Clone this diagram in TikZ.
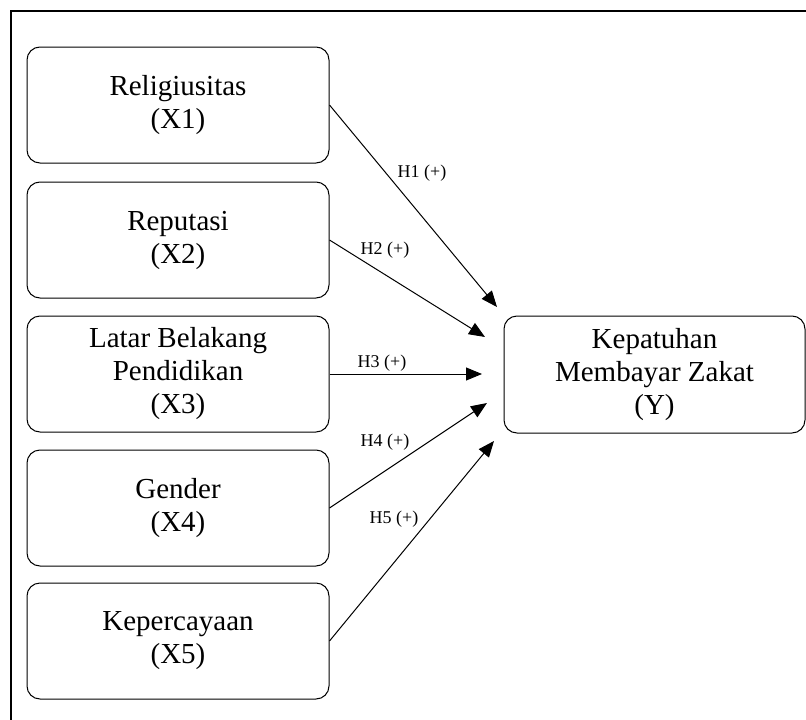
\documentclass[tikz,border=0pt]{standalone}
\usepackage{fontspec}
\setmainfont{Liberation Serif}
\usetikzlibrary{arrows.meta}

\tikzset{
  varbox/.style={draw, rounded corners=13pt, line width=1pt, inner sep=0pt,
    minimum width=302pt, minimum height=116pt, align=center,
    font=\fontsize{29}{33}\selectfont},
  hyparrow/.style={line width=1pt, -{Triangle[length=16pt,width=13pt]}},
  hyplabel/.style={font=\fontsize{18}{20}\selectfont, inner sep=0pt}
}

\begin{document}
\begin{tikzpicture}[x=1pt,y=-1pt]
\useasboundingbox (0,0) rectangle (806,720);

\draw [line width=2.2pt] (11,720) -- (11,11) -- (806,11);

\node [varbox] (x1) at (178,105) {Religiusitas\\(X1)};
\node [varbox] (x2) at (178,240) {Reputasi\\(X2)};
\node [varbox] (x3) at (178,374) {Latar Belakang\\Pendidikan\\(X3)};
\node [varbox] (x4) at (178,508) {Gender\\(X4)};
\node [varbox] (x5) at (178,641) {Kepercayaan\\(X5)};

\node [varbox,minimum width=301pt,minimum height=117pt] (y) at (654.5,374.5)
  {Kepatuhan\\Membayar Zakat\\(Y)};

\coordinate (e1) at (497,307);
\coordinate (e2) at (485,337);
\coordinate (e3) at (482,374);
\coordinate (e4) at (487,403);
\coordinate (e5) at (494,441);

\foreach \i in {1,...,5}
  \draw [hyparrow] (x\i.east) -- (e\i);

\node [hyplabel] (h1) at (422,173) {H1 (+)};
\node [hyplabel] (h2) at (385,250) {H2 (+)};
\node [hyplabel] (h3) at (382,363) {H3 (+)};
\node [hyplabel] (h4) at (385,442) {H4 (+)};
\node [hyplabel] (h5) at (394,519) {H5 (+)};

\end{tikzpicture}
\end{document}
